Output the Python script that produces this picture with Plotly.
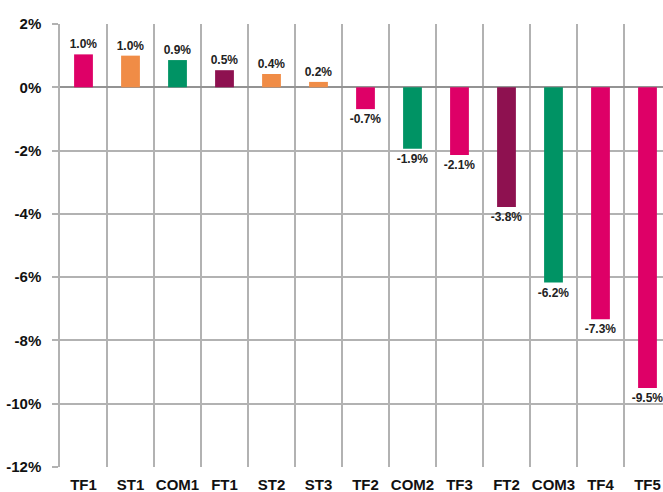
import plotly.graph_objects as go

categories = ["TF1", "ST1", "COM1", "FT1", "ST2", "ST3", "TF2", "COM2", "TF3", "FT2", "COM3", "TF4", "TF5"]
values = [1.04, 1.0, 0.86, 0.54, 0.42, 0.17, -0.69, -1.94, -2.14, -3.78, -6.17, -7.33, -9.5]
groups = ["TF", "ST", "COM", "FT", "ST", "ST", "TF", "COM", "TF", "FT", "COM", "TF", "TF"]
group_colors = {"TF": "#DE0067", "ST": "#F08C46", "COM": "#009364", "FT": "#8E1150"}
y_tickvals = [2, 0, -2, -4, -6, -8, -10, -12]
y_ticktext = ["2%", "0%", "-2%", "-4%", "-6%", "-8%", "-10%", "-12%"]

labels = [f"{v:.1f}%" for v in values]
colors = [group_colors[g] for g in groups]

FONT = "Arial, Liberation Sans, sans-serif"
GRID = "#B2B2B2"

fig = go.Figure(go.Bar(
    x=categories, y=values,
    marker=dict(color=colors, line=dict(width=0)),
    width=0.4,
    text=labels, textposition="outside", cliponaxis=False,
    constraintext="none",
    textfont=dict(family=FONT, size=12, color="#222222", weight="bold"),
    outsidetextfont=dict(family=FONT, size=12, color="#222222", weight="bold"),
))

fig.update_layout(
    width=663, height=492,
    margin=dict(l=60, r=0, t=24, b=25, autoexpand=False),
    plot_bgcolor="white", paper_bgcolor="white",
    showlegend=False,
)
fig.update_xaxes(
    type="category", range=[-0.5, 12.33], automargin=False,
    tickson="boundaries", showgrid=True, gridcolor=GRID, gridwidth=1.5,
    ticks="", showline=False, zeroline=False,
    tickangle=0, ticklabelstandoff=7,
    tickfont=dict(family=FONT, size=15, color="#111111", weight="bold"),
)
fig.update_yaxes(
    range=[-12, 2], tickvals=y_tickvals, ticktext=y_ticktext, automargin=False,
    showgrid=True, gridcolor=GRID, gridwidth=1.5,
    zeroline=True, zerolinecolor="#939393", zerolinewidth=1.5,
    ticks="outside", ticklen=6, tickcolor=GRID, tickwidth=1.5,
    ticklabelstandoff=8,
    showline=True, linecolor=GRID, linewidth=1.5,
    tickfont=dict(family=FONT, size=15, color="#111111", weight="bold"),
)

fig.write_html("out.html", config={"displayModeBar": False},
               post_script="document.body.style.margin='0';document.body.style.overflow='hidden';")
